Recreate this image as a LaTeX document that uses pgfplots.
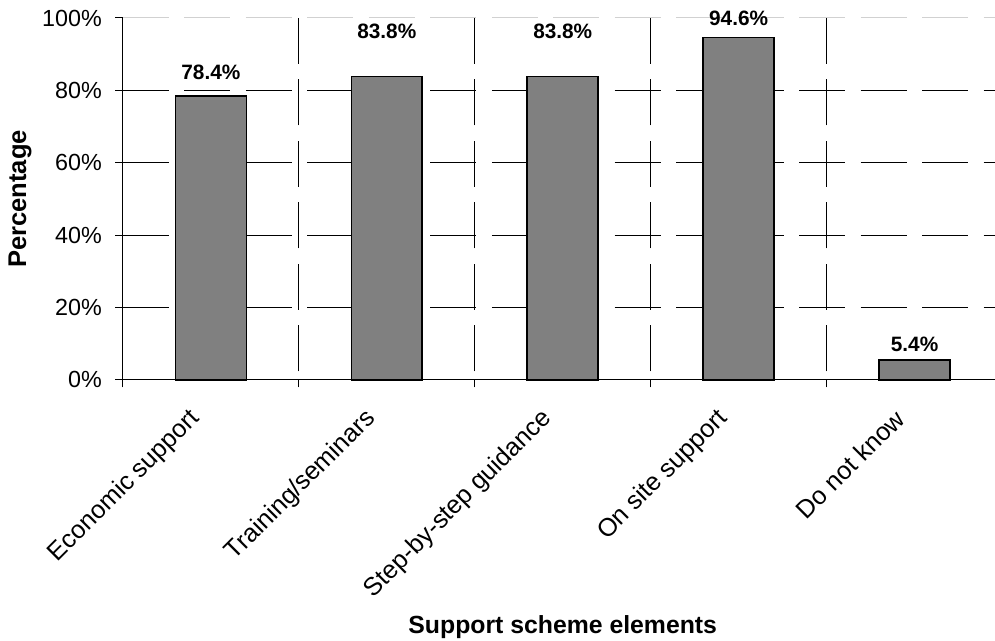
\documentclass[border=0pt]{standalone}
\usepackage{pgfplots}
\pgfplotsset{compat=1.18}
\usepackage{pgfplotstable}
\usepackage{fontspec}
\setmainfont{Liberation Sans}
\usetikzlibrary{calc}

% Share of respondents naming each element of the support scheme;
% lift = gap (pt) between bar top and the baseline of its value label
\pgfplotstableread{
idx value lift
0 78.4 12.75
1 83.8 28.5
2 83.8 28.5
3 94.6 8.8
4 5.4 6.75
}\supportdata

\begin{document}
\begin{tikzpicture}
\begin{axis}[
  name=ax,
  scale only axis,
  width=654pt, height=271.5pt,
  xmin=-0.5, xmax=4.4545,
  ymin=0, ymax=100,
  clip=false,
  axis x line*=bottom, axis y line*=left,
  axis line style={-, black, line width=0.75pt},
  /pgf/number format/assume math mode=true,
  ticklabel style={font=\fontsize{17.5}{21}\selectfont},
  tick align=outside,
  major tick length=5.6pt,
  tick style={black, line width=0.75pt},
  % value axis
  ytick={0,20,40,60,80},
  yticklabel={\pgfmathprintnumber{\tick}\%},
  yticklabel style={inner sep=0pt, xshift=-10pt},
  extra y ticks={100},
  extra y tick labels={100\%},
  extra y tick style={y grid style={black!18}},
  ymajorgrids,
  y grid style={black, line width=0.75pt, dash pattern=on 34.5pt off 11.625pt},
  % category boundaries carry the ticks and the vertical grid
  xtick={-0.5,0.5,1.5,2.5,3.5},
  xticklabels={},
  xmajorgrids,
  x grid style={black, line width=0.75pt, dash pattern=on 34.5pt off 11.625pt, dash phase=39.75pt},
  % category names at the bar centres
  extra x ticks={0,1,2,3,4},
  extra x tick labels={Economic support, Training/seminars, Step-by-step guidance, On site support, Do not know},
  extra x tick style={major tick length=0pt, grid=none,
    xticklabel style={inner sep=0pt, xshift=-11pt, yshift=-26pt, rotate=45, anchor=east,
      font=\fontsize{19}{23}\selectfont}},
  xlabel={Support scheme elements},
  xlabel style={at={(axis description cs:0.5046,-0.7017)}, anchor=base, inner sep=0pt,
    font=\bfseries\fontsize{18.6}{22}\selectfont},
  ylabel={Percentage},
  ylabel style={at={(axis description cs:-0.1181,0.5)}, rotate=0, anchor=center, inner sep=0pt,
    font=\bfseries\fontsize{19.2}{23}\selectfont},
]
\addplot[ybar, bar width=53.25pt, fill=gray, draw=black, line width=1.2pt,
  visualization depends on={\thisrow{lift} \as \lift},
  nodes near coords={\pgfmathprintnumber[fixed, precision=1, fixed zerofill]{\pgfplotspointmeta}\%},
  nodes near coords style={font=\bfseries\fontsize{15.6}{18}\selectfont, anchor=base, yshift=\lift pt, inner sep=0pt}]
  table[x=idx, y=value] {\supportdata};
\end{axis}
\path ($(ax.south west)+(-92.25pt,-195.75pt)$) rectangle ($(ax.south east)+(0pt,285pt)$);
\end{tikzpicture}
\end{document}
